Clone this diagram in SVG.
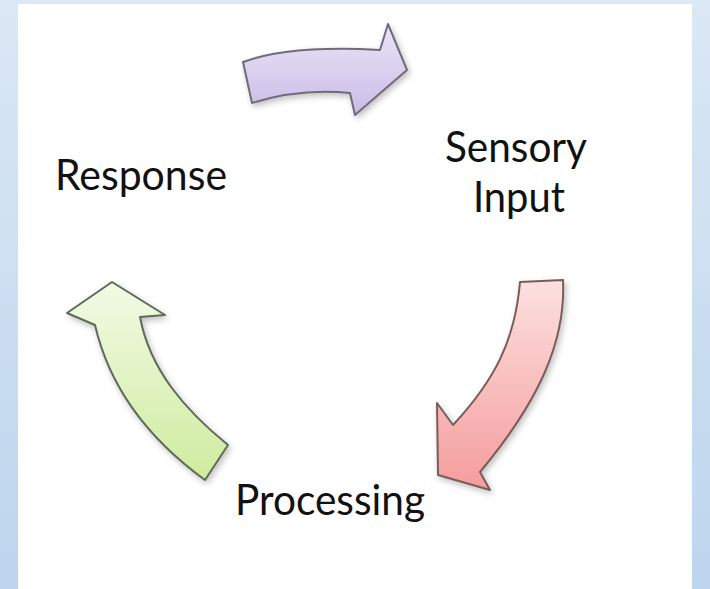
<svg xmlns="http://www.w3.org/2000/svg" width="710" height="589" viewBox="0 0 710 589">
  <defs>
    <linearGradient id="frame" x1="0" y1="0" x2="0" y2="1">
      <stop offset="0" stop-color="#dbe8f5"/>
      <stop offset="1" stop-color="#bdd5ed"/>
    </linearGradient>
    <linearGradient id="gPurple" x1="0" y1="0" x2="0" y2="1">
      <stop offset="0" stop-color="#ebe5f6"/>
      <stop offset="1" stop-color="#c9bce6"/>
    </linearGradient>
    <linearGradient id="gRed" x1="0" y1="0" x2="0" y2="1">
      <stop offset="0" stop-color="#fde0e0"/>
      <stop offset="1" stop-color="#f59c9c"/>
    </linearGradient>
    <linearGradient id="gGreen" x1="0" y1="0" x2="0" y2="1">
      <stop offset="0" stop-color="#f3fae6"/>
      <stop offset="1" stop-color="#cfeb9e"/>
    </linearGradient>
    <filter id="shadow" x="-20%" y="-20%" width="140%" height="140%">
      <feGaussianBlur in="SourceAlpha" stdDeviation="3"/>
      <feOffset dx="2" dy="3" result="b"/>
      <feComponentTransfer><feFuncA type="linear" slope="0.25"/></feComponentTransfer>
      <feMerge><feMergeNode/><feMergeNode in="SourceGraphic"/></feMerge>
    </filter>
  </defs>
  <style>
    .arrow { stroke-width: 2; stroke-linejoin: round; filter: url(#shadow); }
    .label { font-family: "Lato", "Open Sans", "Liberation Sans", sans-serif; font-size: 43px; fill: #111; }
  </style>

  <!-- page frame -->
  <rect x="0" y="0" width="710" height="589" fill="url(#frame)"/>
  <rect x="18" y="4" width="674" height="585" fill="#ffffff"/>

  <!-- cycle arrows -->
  <g id="connectors">
    <path id="arrow-response-to-input" class="arrow" fill="url(#gPurple)" stroke="#6f6b7a"
          d="M243,62 Q290,45 380,50 L388,24 L407,70 L355,115 L350,93 Q300,88 252,103 Z"/>
    <path id="arrow-input-to-processing" class="arrow" fill="url(#gRed)" stroke="#7a5c5c"
          d="M520,282 L563,280 C566,340 540,400 480,472 L490,490 L438,475 L437,403 L453,425 C495,380 515,340 520,282 Z"/>
    <path id="arrow-processing-to-response" class="arrow" fill="url(#gGreen)" stroke="#5f6b58"
          d="M112,282 L165,315 L140,317 C150,370 185,410 228,445 L205,480 C150,440 110,390 95,325 L67,313 Z"/>
  </g>

  <!-- stage labels -->
  <g id="node-response">
    <text class="label" x="55" y="190" textLength="172" lengthAdjust="spacingAndGlyphs">Response</text>
  </g>
  <g id="node-sensory-input">
    <text class="label" x="445" y="162" textLength="142" lengthAdjust="spacingAndGlyphs">Sensory</text>
    <text class="label" x="473" y="212" textLength="92" lengthAdjust="spacingAndGlyphs">Input</text>
  </g>
  <g id="node-processing">
    <text class="label" x="235" y="515" textLength="190" lengthAdjust="spacingAndGlyphs">Processing</text>
  </g>
</svg>
